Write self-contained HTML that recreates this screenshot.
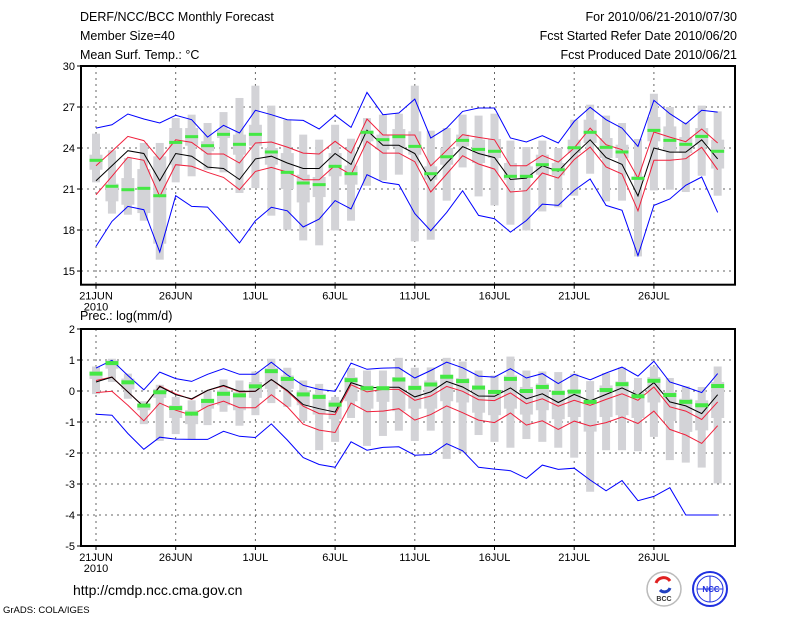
<!DOCTYPE html>
<html><head><meta charset="utf-8"><style>
body{margin:0;background:#fff;width:800px;height:618px;overflow:hidden}
svg{position:absolute;left:0;top:0}
text{font-family:"Liberation Sans",sans-serif}
</style></head><body>
<svg id="chart" width="800" height="618" viewBox="0 0 800 618">
<g font-size="12.5" fill="#000">
<text x="80" y="21">DERF/NCC/BCC Monthly Forecast</text>
<text x="80" y="40">Member Size=40</text>
<text x="80" y="59">Mean Surf. Temp.: °C</text>
<text x="737" y="21" text-anchor="end">For 2010/06/21-2010/07/30</text>
<text x="737" y="40" text-anchor="end">Fcst Started Refer Date 2010/06/20</text>
<text x="737" y="59" text-anchor="end">Fcst Produced Date 2010/06/21</text>
<text x="80" y="320">Prec.: log(mm/d)</text>
</g>
<text x="73" y="595" font-size="14">http://cmdp.ncc.cma.gov.cn</text>
<text x="3" y="613" font-size="9.5">GrADS: COLA/IGES</text>
<g>
<circle cx="664" cy="589" r="17" fill="#fff" stroke="#bbb" stroke-width="1.5"/>
<path d="M656 583 a8 8 0 0 1 14 -2" stroke="#e02020" stroke-width="3" fill="none"/>
<path d="M660 590 a6 6 0 0 0 10 -2" stroke="#2040c0" stroke-width="3" fill="none"/>
<text x="664" y="601" font-size="7" text-anchor="middle" font-weight="bold" fill="#333">BCC</text>
</g>
<g>
<circle cx="710" cy="589" r="17" fill="#fff" stroke="#2030e0" stroke-width="2"/>
<ellipse cx="710" cy="589" rx="13" ry="13" fill="none" stroke="#2030e0" stroke-width="1"/>
<line x1="697" y1="589" x2="723" y2="589" stroke="#2030e0"/>
<line x1="710" y1="576" x2="710" y2="602" stroke="#2030e0"/>
<text x="711" y="592" font-size="8" text-anchor="middle" font-weight="bold" fill="#2030e0">NCC</text>
</g>
<g id="p1"></g><g id="p2"></g>
</svg>
<script>
// ---- temperature panel data ----
const days = ["21JUN","26JUN","1JUL","6JUL","11JUL","16JUL","21JUL","26JUL"];
const tYTicks = [15,18,21,24,27,30];
const tBlack = [21.6,22.7,23.8,23.6,21.6,23.6,23.4,22.6,22.5,21.7,23.2,23.4,22.9,22.5,22.5,23.6,22.8,25.3,24.2,24.2,23.6,21.6,22.9,24.1,23.6,23.3,21.7,21.8,22.7,22.3,23.5,24.6,23.3,22.8,20.5,24.0,23.7,23.7,24.6,23.2];
const tRedHi = [22.7,23.76,24.85,24.54,23.15,24.6,24.41,23.56,23.56,22.9,24.37,24.44,24.07,23.63,23.56,24.49,23.63,26.12,24.95,24.95,24.95,22.7,23.83,24.98,24.78,24.6,22.7,22.7,23.46,22.97,24.0,25.46,24.24,23.88,21.8,25.17,24.8,24.46,25.39,24.37];
const tRedLo = [20.58,21.93,23.32,23.1,20.46,22.78,22.66,22.22,21.85,20.95,22.29,22.58,22.24,21.68,21.68,22.73,22.05,24.49,23.63,23.63,23.0,20.78,22.1,23.44,22.83,22.46,20.78,20.88,22.17,21.8,23.15,24.07,22.61,22.1,19.41,23.1,23.1,23.22,24.05,22.41];
const tBlueHi = [25.46,25.7,26.49,26.12,25.83,26.39,26.07,24.8,25.66,25.1,26.76,26.44,26.07,26.02,25.39,26.39,25.51,28.07,26.44,26.56,27.58,24.73,25.46,26.68,26.93,26.93,24.73,24.44,24.9,24.37,25.95,26.98,26.07,25.46,24.12,27.49,26.51,25.76,26.76,26.63];
const tBlueLo = [16.8,18.63,19.73,19.49,16.39,20.51,19.73,19.68,18.39,17.05,18.68,19.66,19.41,18.22,18.8,20.15,19.54,22.05,21.49,21.32,19.2,17.95,19.29,20.88,19.07,18.83,17.85,18.7,19.9,19.8,20.9,21.73,19.8,19.44,16.12,19.8,20.27,21.27,21.88,19.29];
const tGreen = [23.1,21.2,20.95,21.05,20.51,24.41,24.83,24.17,25.0,24.27,25.0,23.71,22.22,21.44,21.32,22.66,22.12,25.15,24.61,24.83,24.12,22.12,23.36,24.56,23.9,23.76,21.93,21.93,22.78,22.41,24.02,25.15,24.05,23.71,21.78,25.29,24.56,24.27,24.85,23.76];
const tMax = [25.05,23.83,23.27,24.37,24.37,26.19,26.44,25.83,26.63,27.66,28.56,27.1,26.07,24.98,24.61,25.7,24.68,26.19,26.44,26.51,28.56,25.27,25.46,26.44,26.37,26.51,24.54,24.07,24.54,24.0,26.07,27.17,26.37,25.83,24.66,27.97,27.0,25.88,27.1,26.68];
const tMin = [21.49,19.2,19.12,18.68,15.83,21.49,21.93,22.41,22.22,20.71,21.07,19.05,18.02,17.24,16.88,17.97,18.68,21.24,21.63,22.05,17.17,17.29,20.15,22.58,20.46,19.8,18.39,17.97,19.36,19.66,20.51,22.12,20.1,20.15,16.07,20.9,20.95,20.78,21.97,20.51];
const tQ3 = [23.51,21.39,21.8,22.46,23.39,25.46,25.46,24.49,25.34,24.98,25.7,24.0,23.63,22.05,21.88,23.63,22.71,25.29,24.98,25.39,25.22,22.66,24.0,24.98,24.61,24.66,22.9,22.66,23.51,22.9,24.61,26.07,24.73,24.24,21.93,26.27,25.58,24.8,25.46,24.61];
const tQ1 = [22.41,20.1,19.85,19.24,17.0,22.78,24.17,23.76,24.73,23.51,24.17,22.78,21.0,20.02,20.41,21.93,21.32,24.49,23.88,24.07,23.51,21.68,22.78,24.12,22.9,23.27,21.68,21.8,22.05,22.0,23.63,24.37,23.27,23.27,21.68,24.49,23.76,23.63,24.24,22.5];
// ---- precipitation panel data ----
const pYTicks = [-5,-4,-3,-2,-1,0,1,2];
const pBlack = [0.29,0.45,-0.03,-0.51,0.15,-0.12,-0.25,0.02,0.18,-0.01,-0.01,0.37,0.02,-0.44,-0.57,-0.68,0.27,0.10,0.12,0.12,-0.19,-0.03,0.31,0.13,-0.16,-0.17,0.10,-0.25,-0.09,-0.37,-0.11,-0.32,-0.11,0.10,-0.14,0.27,-0.35,-0.48,-0.73,-0.12];
const pRedHi = [0.34,0.45,-0.03,-0.51,0.16,-0.09,-0.27,0.02,0.16,-0.03,-0.01,0.37,-0.01,-0.49,-0.73,-0.76,0.20,-0.03,0.05,0.05,-0.30,-0.16,0.15,-0.01,-0.28,-0.31,-0.06,-0.41,-0.25,-0.49,-0.30,-0.46,-0.27,-0.09,-0.30,0.13,-0.51,-0.65,-0.92,-0.35];
const pRedLo = [-0.05,-0.01,-0.46,-0.96,-0.39,-0.62,-0.78,-0.49,-0.33,-0.54,-0.54,-0.12,-0.51,-1.07,-1.26,-1.34,-0.39,-0.67,-0.65,-0.57,-0.94,-0.76,-0.48,-0.70,-0.94,-1.02,-0.71,-1.10,-0.96,-1.24,-0.97,-1.13,-1.02,-0.84,-1.05,-0.65,-1.24,-1.42,-1.69,-1.12];
const pBlueHi = [0.74,0.99,0.50,0.04,0.61,0.40,0.31,0.54,0.72,0.54,0.54,0.93,0.52,0.18,0.05,-0.01,0.90,0.70,0.74,0.75,0.42,0.66,0.93,0.75,0.48,0.45,0.72,0.42,0.56,0.24,0.54,0.36,0.58,0.77,0.48,0.96,0.29,0.13,-0.05,0.56];
const pBlueLo = [-0.75,-0.78,-1.37,-1.88,-1.49,-1.55,-1.56,-1.56,-1.30,-1.46,-1.50,-1.06,-1.58,-2.15,-2.37,-2.46,-1.64,-1.91,-1.82,-1.80,-2.07,-2.05,-1.70,-1.93,-2.46,-2.52,-2.57,-2.82,-2.39,-2.53,-2.49,-2.87,-3.22,-2.89,-3.54,-3.40,-3.12,-4.0,-4.0,-4.0];
const pGreen = [0.56,0.90,0.28,-0.47,-0.04,-0.55,-0.73,-0.32,-0.09,-0.14,0.15,0.64,0.39,-0.11,-0.19,-0.44,0.35,0.09,0.09,0.37,0.10,0.21,0.46,0.32,0.11,-0.03,0.39,0.0,0.13,-0.06,-0.02,-0.35,0.03,0.22,-0.17,0.33,-0.13,-0.35,-0.46,0.16];
const pMax = [0.79,1.04,0.56,-0.33,0.20,-0.19,-0.30,0.02,0.37,0.34,0.63,1.04,0.75,0.34,0.23,-0.19,0.74,0.66,0.66,1.07,0.75,0.76,1.07,0.95,0.66,0.50,1.11,0.66,0.63,0.61,0.56,0.32,0.58,0.76,0.42,0.79,0.42,0.15,0.13,0.79];
const pMin = [-0.10,0.29,-0.25,-1.07,-1.61,-1.39,-1.56,-1.10,-0.67,-1.12,-0.78,-0.39,-0.51,-0.97,-1.91,-1.64,-0.87,-1.77,-1.45,-1.28,-1.61,-1.28,-2.19,-1.98,-1.42,-1.64,-1.83,-1.55,-1.64,-1.83,-2.15,-3.25,-1.91,-1.91,-1.94,-1.48,-2.23,-2.31,-2.47,-2.98];
const pQ3 = [0.63,0.99,0.40,-0.41,0.07,-0.46,-0.62,-0.25,0.02,-0.03,0.29,0.74,0.50,0.02,-0.09,-0.30,0.45,0.18,0.13,0.45,0.18,0.34,0.52,0.42,0.18,0.02,0.50,0.13,0.24,0.02,0.02,-0.30,0.18,0.31,-0.03,0.45,-0.03,-0.25,-0.30,0.29];
const pQ1 = [0.39,0.72,0.05,-0.62,-0.22,-0.87,-1.07,-0.57,-0.46,-0.62,-0.22,0.07,0.07,-0.46,-0.76,-0.91,-0.33,-0.57,-0.35,-0.65,-0.57,-0.57,-0.33,-0.37,-0.70,-0.78,-0.57,-0.76,-0.62,-0.91,-0.84,-1.31,-0.84,-0.78,-0.87,-0.37,-0.97,-1.32,-1.27,-0.87];

const NS = "http://www.w3.org/2000/svg";
const X0 = 81, X1 = 735;
function xOf(i){ return 96 + i*15.94; }
function mk(parent, tag, attrs){
  const e = document.createElementNS(NS, tag);
  for (const k in attrs) e.setAttribute(k, attrs[k]);
  parent.appendChild(e); return e;
}
function panel(g, top, bot, vmin, vmax, yTicks, S, gh){
  const yOf = v => top + (vmax - v) / (vmax - vmin) * (bot - top);
  yTicks.forEach(t => {
    const y = yOf(t);
    if (t !== vmin && t !== vmax) {
      const l = mk(g, "line", {x1:X0, x2:X1, y1:y, y2:y, stroke:"#666", "stroke-dasharray":"2,4", "stroke-width":1});
      
      
    }
    mk(g, "line", {x1:X0-4, x2:X0, y1:y, y2:y, stroke:"#000"});
    const tx = mk(g, "text", {x:X0-6, y:y+4, "font-size":11, "text-anchor":"end"});
    tx.textContent = String(t);
    
    
  });
  days.forEach((d, k) => {
    const x = xOf(k*5);
    const l = mk(g, "line", {x1:x, x2:x, y1:top, y2:bot, stroke:"#666", "stroke-dasharray":"2,4"});
    
    
    mk(g, "line", {x1:x, x2:x, y1:bot, y2:bot+4, stroke:"#000"});
    const tx = mk(g, "text", {x:x, y:bot+15, "font-size":11, "text-anchor":"middle"});
    tx.textContent = d;
    
    
  });
  const yr = mk(g, "text", {x:xOf(0), y:bot+26, "font-size":11, "text-anchor":"middle"});
  yr.textContent = "2010";
  
  
  S.max.forEach((_, i) => {
    const x = xOf(i);
    const r1 = mk(g, "rect", {x:x-4, width:8, y:yOf(S.max[i]), height:Math.max(1, yOf(S.min[i]) - yOf(S.max[i])), fill:"#d3d3d7"});
    
    
    const r2 = mk(g, "rect", {x:x-6.5, width:13, y:yOf(S.q3[i]), height:Math.max(1, yOf(S.q1[i]) - yOf(S.q3[i])), fill:"#d3d3d7"});
    
    
  });
  const line = (arr, color, name) => {
    const p = mk(g, "polyline", {points: arr.map((v,i) => xOf(i)+","+yOf(v).toFixed(1)).join(" "), fill:"none", stroke:color, "stroke-width":1});
    
    
  };
  line(S.blueHi, "#0000ff", "upper-bound-line");
  line(S.blueLo, "#0000ff", "lower-bound-line");
  line(S.redHi, "#f0203c", "upper-spread-line");
  line(S.redLo, "#f0203c", "lower-spread-line");
  line(S.black, "#000", "ensemble-mean-line");
  S.green.forEach((v, i) => {
    const r = mk(g, "rect", {x:xOf(i)-6.5, width:13, y:yOf(v)-gh/2, height:gh, fill:"#44e844"});
    
    
  });
  const f = mk(g, "rect", {x:X0, y:top, width:X1-X0, height:bot-top, fill:"none", stroke:"#000", "stroke-width":2});
  
  
}
const g1 = document.getElementById("p1");


const g2 = document.getElementById("p2");


panel(g1, 66, 284.7, 14, 30, tYTicks, {black:tBlack, redHi:tRedHi, redLo:tRedLo, blueHi:tBlueHi, blueLo:tBlueLo, green:tGreen, max:tMax, min:tMin, q3:tQ3, q1:tQ1}, 3);
panel(g2, 329, 546, -5, 2, pYTicks, {black:pBlack, redHi:pRedHi, redLo:pRedLo, blueHi:pBlueHi, blueLo:pBlueLo, green:pGreen, max:pMax, min:pMin, q3:pQ3, q1:pQ1}, 4);
</script>
</body></html>
